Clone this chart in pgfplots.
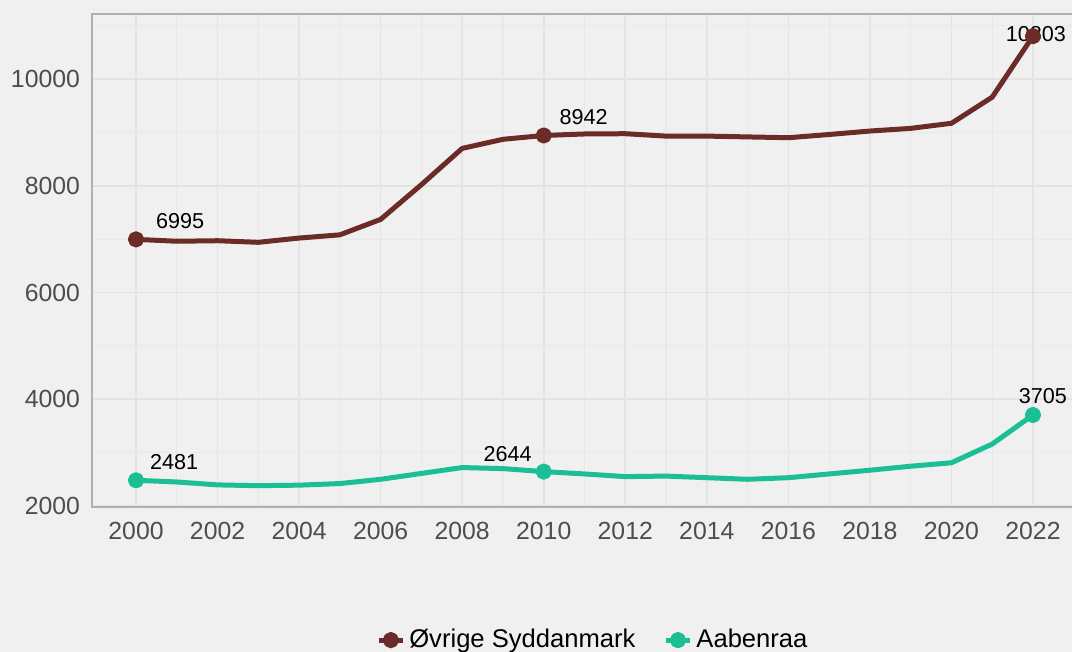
\documentclass[border=0pt]{standalone}
\usepackage{pgfplots}
\pgfplotsset{compat=1.18}
\usepackage{fontspec}
\setmainfont{Liberation Sans}
\definecolor{bg}{HTML}{F0F0F0}
\definecolor{brownc}{HTML}{6B2B26}
\definecolor{tealc}{HTML}{1CBF95}
\definecolor{ticklab}{HTML}{4D4D4D}
\definecolor{framec}{HTML}{B0B0B0}
\definecolor{gmaj}{HTML}{E3E3E3}
\definecolor{gmin}{HTML}{E8E8E8}
\begin{document}
\begin{tikzpicture}
\useasboundingbox[fill=bg] (0,0) rectangle (536pt,326pt);
\begin{axis}[
  at={(46pt,72.5pt)}, anchor=south west,
  scale only axis, width=492.5pt, height=246.5pt,
  xmin=1998.92, xmax=2023.08, ymin=1981, ymax=11218,
  xtick={2000,2002,...,2022}, minor xtick={2001,2003,...,2021},
  ytick={2000,4000,6000,8000,10000}, minor ytick={3000,5000,7000,9000,11000},
  scaled y ticks=false, scaled x ticks=false,
  grid=both,
  major grid style={gmaj, line width=0.8pt},
  minor grid style={gmin, line width=0.6pt},
  axis line style={draw=none},
  tick style={draw=none},
  /pgf/number format/assume math mode=true,
  /pgf/number format/1000 sep={},
  ticklabel style={font=\fontsize{12.4}{14}\selectfont, text=ticklab},
  xticklabel style={yshift=-4pt},
  yticklabel style={xshift=-2.5pt},
  legend style={at={(0.5096,-0.27)}, anchor=center, draw=none, fill=none,
    font=\fontsize{12.8}{14}\selectfont, legend columns=2,
    /tikz/every even column/.append style={column sep=12pt}},
  legend image code/.code={\draw[#1,mark indices={2}] plot coordinates {(0cm,0cm) (0.21cm,0cm) (0.42cm,0cm)};},
  clip=false,
]
\draw[framec, line width=1pt] (rel axis cs:1.2,0) -- (rel axis cs:0,0) -- (rel axis cs:0,1) -- (rel axis cs:1.2,1);
\addplot[brownc, line width=2.5pt, line join=round, mark=*, mark size=2.8pt, mark indices={1,11,23}] coordinates {
(2000,6995) (2001,6960) (2002,6970) (2003,6940) (2004,7020) (2005,7080) (2006,7370) (2007,8020) (2008,8700) (2009,8870) (2010,8942) (2011,8970) (2012,8975) (2013,8930) (2014,8930) (2015,8915) (2016,8900) (2017,8960) (2018,9025) (2019,9075) (2020,9170) (2021,9660) (2022,10803)};
\addlegendentry{Øvrige Syddanmark}
\addplot[tealc, line width=2.5pt, line join=round, mark=*, mark size=2.8pt, mark indices={1,11,23}] coordinates {
(2000,2481) (2001,2450) (2002,2395) (2003,2380) (2004,2390) (2005,2420) (2006,2500) (2007,2610) (2008,2720) (2009,2700) (2010,2644) (2011,2600) (2012,2550) (2013,2560) (2014,2530) (2015,2500) (2016,2530) (2017,2600) (2018,2670) (2019,2745) (2020,2810) (2021,3160) (2022,3705)};
\addlegendentry{Aabenraa}
\begin{scope}[every node/.style={font=\fontsize{10.8}{12}\selectfont, text=black, inner sep=0pt}]
\node at (axis cs:2000,6995) [xshift=22pt, yshift=9pt] {6995};
\node at (axis cs:2010,8942) [xshift=20pt, yshift=9pt] {8942};
\node at (axis cs:2022,10803) [xshift=1.5pt, yshift=1pt] {10803};
\node at (axis cs:2000,2481) [xshift=19pt, yshift=9pt] {2481};
\node at (axis cs:2010,2644) [xshift=-18pt, yshift=9pt] {2644};
\node at (axis cs:2022,3705) [xshift=5pt, yshift=9.5pt] {3705};
\end{scope}
\end{axis}
\end{tikzpicture}
\end{document}
